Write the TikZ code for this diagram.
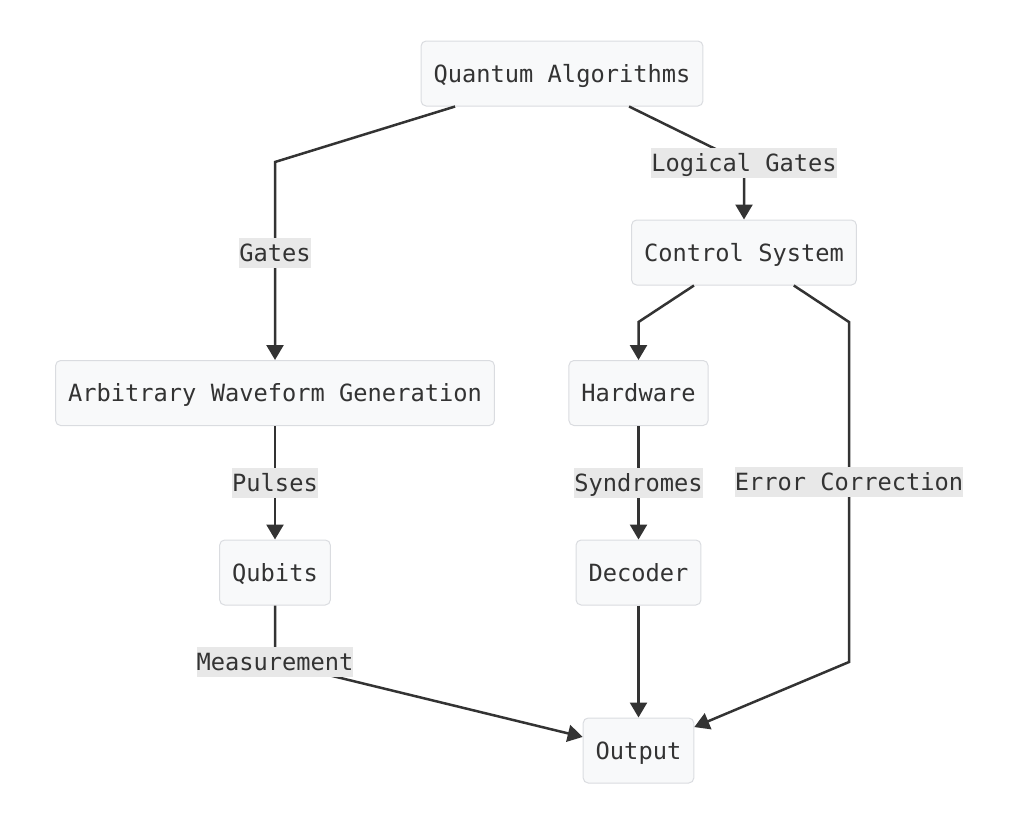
\documentclass[tikz,border=0pt]{standalone}
\usepackage{fontspec}
\setmonofont{DejaVu Sans Mono}
\usepackage{tikz}
\usetikzlibrary{arrows.meta}
\definecolor{boxfill}{HTML}{F8F9FA}
\definecolor{boxline}{HTML}{DADCE0}
\definecolor{lblfill}{HTML}{E8E8E8}
\definecolor{ink}{HTML}{333333}
\tikzstyle{block}=[draw=boxline, fill=boxfill, line width=1pt, rounded corners=5pt, minimum height=65pt, inner xsep=12.5pt, text height=17.3pt, text depth=0pt, text=ink, font=\fontsize{23.7}{28}\selectfont\ttfamily]
\tikzstyle{elabel}=[fill=lblfill, inner sep=0pt, minimum height=30pt, text height=17.3pt, text depth=0pt, text=ink, font=\fontsize{23.7}{28}\selectfont\ttfamily]
\tikzstyle{link}=[-{Triangle[length=15pt,width=17pt]}, line width=2.5pt, draw=ink]

\begin{document}
\begin{tikzpicture}[x=1pt, y=-1pt]

\useasboundingbox (0,0) rectangle (1033,817);

%blocks
    \foreach \pos/\name/\text in {{(562,73.5)/qa/Quantum Algorithms}, {(744,252.5)/cs/Control System}, {(275,393)/awg/Arbitrary Waveform Generation}, {(638.5,393)/hw/Hardware}, {(275,572.5)/qb/Qubits}, {(638.5,572.5)/dec/Decoder}, {(638.5,750.5)/out/Output}}
        \node[block] (\name) at \pos {\text};

%bends
    \coordinate (gbend) at (275,162);
    \coordinate (lgbend) at (744,163);
    \coordinate (hwbend) at (638.5,322);
    \coordinate (ecbend) at (849,322);
    \coordinate (ecdown) at (849,662);
    \coordinate (msbend) at (275,662);

%links
    \draw[link] (qa) -- (gbend) -- node[elabel,pos=0.46] (gates) {Gates} (awg);
    \draw[link] (qa) -- (lgbend) node[elabel] (lgates) {Logical Gates} -- (cs);
    \draw[link] (cs) -- (hwbend) -- (hw);
    \draw[link] (cs) -- (ecbend) -- node[elabel,pos=0.47] (ecorr) {Error Correction} (ecdown) -- (out);
    \draw[link] (qb) -- (msbend) node[elabel] (meas) {Measurement} -- (out);

    \foreach \source/\dest/\label in {awg/qb/Pulses, hw/dec/Syndromes}
        \draw[link] (\source) -- node[elabel] {\label} (\dest);
    \draw[link] (dec) -- (out);

\end{tikzpicture}
\end{document}
